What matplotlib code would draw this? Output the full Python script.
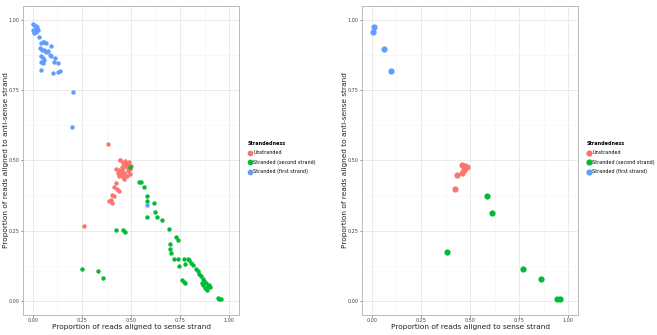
import matplotlib.pyplot as plt

# left panel: all samples
left_unstr_x = [0.381, 0.446, 0.446, 0.471, 0.492, 0.424, 0.441, 0.458, 0.475, 0.488, 0.500,
                0.432, 0.449, 0.466, 0.483, 0.495, 0.441, 0.458, 0.478, 0.466, 0.424, 0.415,
                0.427, 0.437, 0.403, 0.415, 0.398, 0.390, 0.403, 0.259, 0.461, 0.483, 0.454,
                0.471, 0.495, 0.480, 0.470, 0.452]
left_unstr_y = [0.558, 0.501, 0.502, 0.499, 0.493, 0.469, 0.467, 0.473, 0.479, 0.485, 0.481,
                0.455, 0.452, 0.457, 0.464, 0.452, 0.445, 0.441, 0.445, 0.434, 0.419, 0.405,
                0.398, 0.393, 0.378, 0.372, 0.360, 0.354, 0.350, 0.268, 0.490, 0.473, 0.461,
                0.449, 0.469, 0.492, 0.485, 0.478]

left_second_x = [0.497, 0.542, 0.551, 0.564, 0.581, 0.580, 0.619, 0.624, 0.632, 0.580, 0.658,
                 0.692, 0.729, 0.737, 0.700, 0.698, 0.703, 0.717, 0.741, 0.771, 0.788, 0.793,
                 0.746, 0.776, 0.805, 0.814, 0.831, 0.841, 0.847, 0.856, 0.759, 0.768, 0.776,
                 0.864, 0.873, 0.861, 0.881, 0.868, 0.890, 0.898, 0.878, 0.886, 0.903, 0.941,
                 0.949, 0.958, 0.424, 0.461, 0.471, 0.249, 0.331, 0.359]
left_second_y = [0.478, 0.425, 0.422, 0.405, 0.374, 0.354, 0.350, 0.318, 0.300, 0.297, 0.289,
                 0.257, 0.227, 0.217, 0.202, 0.185, 0.172, 0.150, 0.150, 0.150, 0.150, 0.146,
                 0.125, 0.132, 0.134, 0.128, 0.113, 0.108, 0.096, 0.089, 0.075, 0.068, 0.063,
                 0.077, 0.072, 0.065, 0.063, 0.057, 0.053, 0.057, 0.045, 0.037, 0.049, 0.010,
                 0.007, 0.006, 0.251, 0.253, 0.246, 0.114, 0.106, 0.080]

left_first_x = [0.003, 0.008, 0.017, 0.022, 0.000, 0.008, 0.017, 0.005, 0.025, 0.014, 0.020,
                0.031, 0.042, 0.051, 0.059, 0.068, 0.093, 0.037, 0.047, 0.059, 0.068, 0.076,
                0.085, 0.093, 0.042, 0.051, 0.059, 0.044, 0.054, 0.115, 0.110, 0.127, 0.042,
                0.105, 0.127, 0.136, 0.207, 0.200, 0.580]
left_first_y = [0.987, 0.983, 0.980, 0.975, 0.965, 0.959, 0.956, 0.954, 0.965, 0.971, 0.968,
                0.940, 0.917, 0.923, 0.921, 0.917, 0.906, 0.900, 0.895, 0.892, 0.887, 0.889,
                0.876, 0.871, 0.871, 0.864, 0.859, 0.850, 0.848, 0.864, 0.849, 0.848, 0.823,
                0.810, 0.815, 0.819, 0.745, 0.618, 0.342]

# right panel: subset
right_unstr_x = [0.459, 0.476, 0.485, 0.471, 0.461, 0.431, 0.421]
right_unstr_y = [0.485, 0.482, 0.475, 0.467, 0.455, 0.449, 0.398]
right_second_x = [0.586, 0.613, 0.383, 0.767, 0.861, 0.944, 0.958]
right_second_y = [0.372, 0.312, 0.175, 0.115, 0.077, 0.007, 0.005]
right_first_x = [0.012, 0.005, 0.064, 0.096]
right_first_y = [0.977, 0.956, 0.896, 0.819]

labels = ["Unstranded", "Stranded (second strand)", "Stranded (first strand)"]
colors = ["#F8766D", "#00BA38", "#619CFF"]
ticks = [0.0, 0.25, 0.5, 0.75, 1.0]
ticklabels = ["0.00", "0.25", "0.50", "0.75", "1.00"]

fig = plt.figure(figsize=(6.57, 3.35), dpi=100)
ax1 = fig.add_axes([0.035, 0.06, 0.329, 0.922])
ax2 = fig.add_axes([0.551, 0.06, 0.329, 0.922])

panels = [
    (ax1, [(left_unstr_x, left_unstr_y), (left_second_x, left_second_y), (left_first_x, left_first_y)], 10),
    (ax2, [(right_unstr_x, right_unstr_y), (right_second_x, right_second_y), (right_first_x, right_first_y)], 20),
]

for ax, groups, size in panels:
    for (x, y), lab, c in zip(groups, labels, colors):
        ax.scatter(x, y, s=size, color=c, label=lab, linewidths=0, zorder=3)
    ax.set_xlim(-0.05, 1.05)
    ax.set_ylim(-0.05, 1.05)
    ax.set_xticks(ticks)
    ax.set_xticklabels(ticklabels)
    ax.set_yticks(ticks)
    ax.set_yticklabels(ticklabels)
    ax.set_xticks([0.125, 0.375, 0.625, 0.875], minor=True)
    ax.set_yticks([0.125, 0.375, 0.625, 0.875], minor=True)
    ax.grid(which="major", color="#e6e6e6", linewidth=0.6, zorder=0)
    ax.grid(which="minor", color="#f4f4f4", linewidth=0.4, zorder=0)
    ax.set_axisbelow(True)
    ax.tick_params(which="major", labelsize=3.5, length=1.5, width=0.5, color="#555555",
                   pad=0.8, labelcolor="#444444")
    ax.tick_params(which="minor", length=0)
    for sp in ax.spines.values():
        sp.set_color("#bbbbbb")
        sp.set_linewidth(0.7)
    ax.set_xlabel("Proportion of reads aligned to sense strand", fontsize=5.3, labelpad=0.5, color="#222222")
    ax.set_ylabel("Proportion of reads aligned to anti-sense strand", fontsize=5.3, color="#222222")
    ax.yaxis.set_label_coords(-0.066, 0.5)
    leg = ax.legend(title="Strandedness", loc="upper left", bbox_to_anchor=(1.03, 0.57),
                    fontsize=3.5, title_fontsize=3.5, frameon=False,
                    markerscale=1.0 if size > 10 else 1.3,
                    handlelength=0.8, handletextpad=0.4, labelspacing=0.9, borderaxespad=0)
    leg.get_title().set_fontweight("bold")
    leg._legend_box.align = "left"

plt.savefig("out.png", dpi=100)
